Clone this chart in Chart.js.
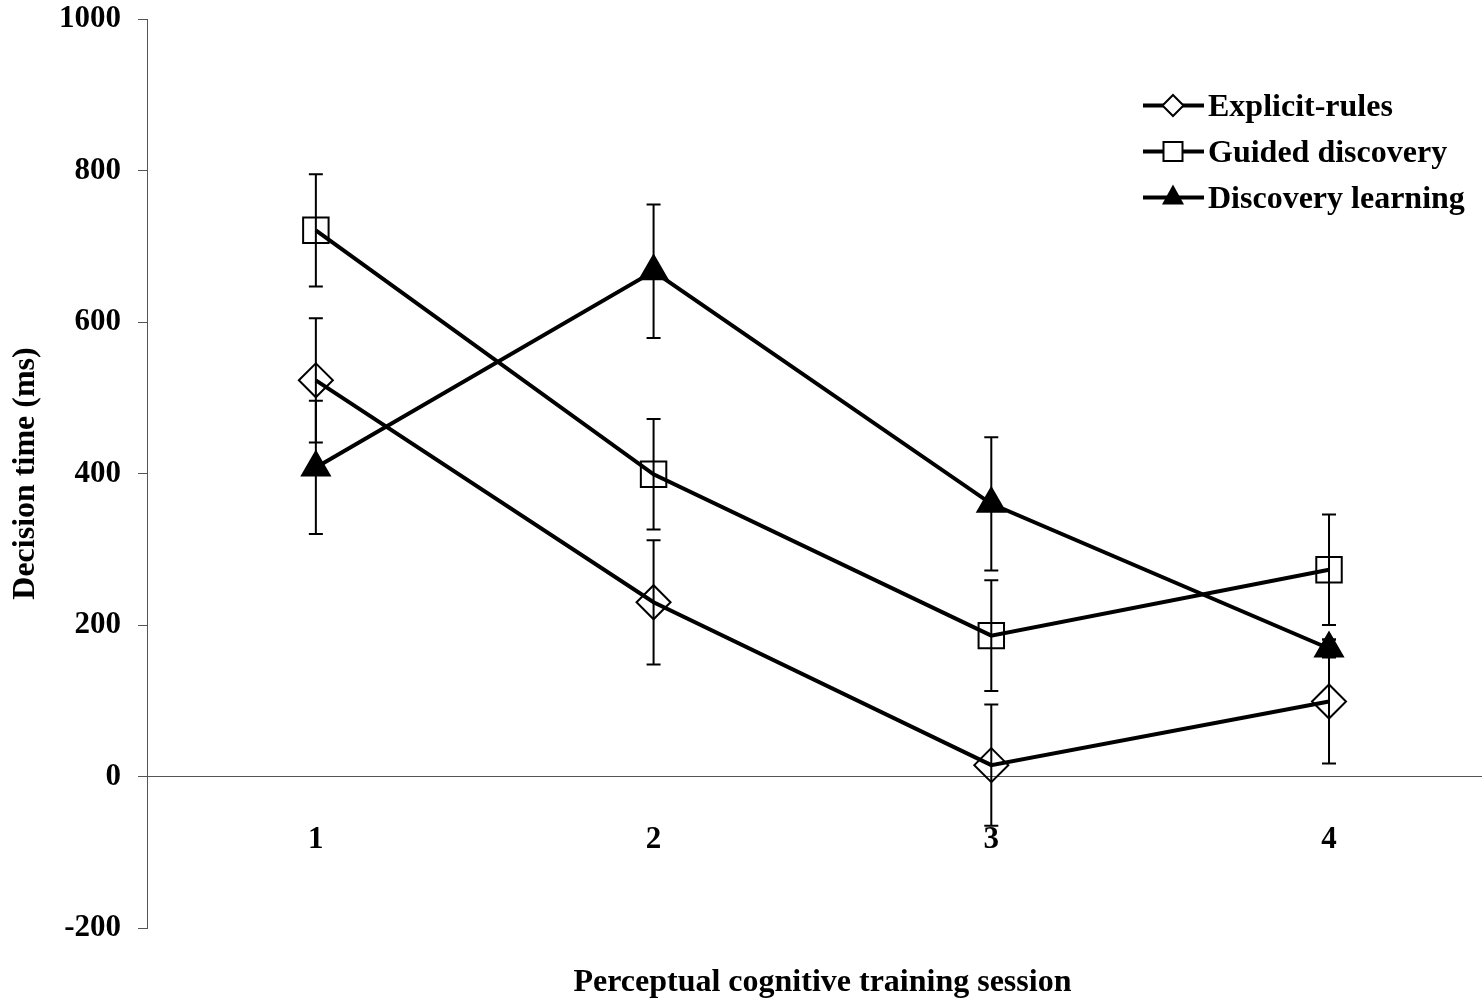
<!DOCTYPE html>
<html>
<head>
<meta charset="utf-8">
<script src="https://cdn.jsdelivr.net/npm/chart.js@4"></script>
<style>
  html, body { margin: 0; padding: 0; background: #fff; overflow: hidden; }
  #wrap { width: 1482px; height: 1002px; }
</style>
</head>
<body>
<div id="wrap"><canvas id="c"></canvas></div>
<script>
// Data (decision time, ms)
const sessions = [1, 2, 3, 4];
const yTicks = [-200, 0, 200, 400, 600, 800, 1000];
const explicitRules = [523, 230, 15, 99];
const explicitErr = [82, 82, 80, 82];
const guided = [721, 399, 186, 273];
const guidedErr = [74, 73, 73, 73];
const discovery = [408, 667, 360, 169];
const discoveryErr = [88, 88, 88, 12];

const FONT = "'Liberation Serif', 'Times New Roman', serif";
const tickFont = { family: FONT, size: 31, weight: 'bold' };
const titleFont = { family: FONT, size: 32, weight: 'bold' };
const AXIS = '#555';
const X_TITLE = 'Perceptual cognitive training session';

function pts(vals) {
  return sessions.map((s, i) => ({ x: s, y: vals[i] }));
}

// vertical error bars with caps, drawn under the lines/markers
const errorBars = {
  id: 'errorBars',
  beforeDatasetsDraw(chart) {
    const { ctx, scales: { x, y } } = chart;
    ctx.save();
    ctx.strokeStyle = '#000';
    ctx.lineWidth = 2;
    chart.data.datasets.forEach((ds) => {
      ds.data.forEach((p, i) => {
        const px = x.getPixelForValue(p.x);
        const top = y.getPixelForValue(p.y + ds.err[i]);
        const bot = y.getPixelForValue(p.y - ds.err[i]);
        ctx.beginPath();
        ctx.moveTo(px, top); ctx.lineTo(px, bot);
        ctx.moveTo(px - 7, top); ctx.lineTo(px + 7, top);
        ctx.moveTo(px - 7, bot); ctx.lineTo(px + 7, bot);
        ctx.stroke();
      });
    });
    ctx.restore();
  },
};

function marker(ctx, style, x, y) {
  ctx.beginPath();
  if (style === 'rectRot') {
    ctx.moveTo(x, y - 10.5); ctx.lineTo(x + 10.5, y); ctx.lineTo(x, y + 10.5); ctx.lineTo(x - 10.5, y); ctx.closePath();
    ctx.fillStyle = '#fff'; ctx.fill(); ctx.stroke();
  } else if (style === 'rect') {
    ctx.rect(x - 9.5, y - 9.5, 19, 19);
    ctx.fillStyle = '#fff'; ctx.fill(); ctx.stroke();
  } else {
    ctx.moveTo(x, y - 13); ctx.lineTo(x + 11, y + 7); ctx.lineTo(x - 11, y + 7); ctx.closePath();
    ctx.fillStyle = '#000'; ctx.fill();
  }
}

// legend (line + marker sample) and the x-axis title centred on the category range
const extras = {
  id: 'extras',
  afterDraw(chart) {
    const { ctx, scales: { x } } = chart;
    ctx.save();
    chart.data.datasets.forEach((ds, i) => {
      const y = 105.5 + i * 46;
      ctx.strokeStyle = '#000';
      ctx.lineWidth = 4;
      ctx.beginPath();
      ctx.moveTo(1143, y); ctx.lineTo(1204, y);
      ctx.stroke();
      ctx.lineWidth = 2;
      marker(ctx, ds.pointStyle, 1173, y);
      ctx.fillStyle = '#000';
      ctx.font = 'bold 32px ' + FONT;
      ctx.textBaseline = 'middle';
      ctx.textAlign = 'left';
      ctx.fillText(ds.label, 1208, y + 2);
    });
    ctx.font = 'bold 32px ' + FONT;
    ctx.textAlign = 'center';
    ctx.textBaseline = 'middle';
    ctx.fillText(X_TITLE, x.getPixelForValue(2.5), 983);
    ctx.restore();
  },
};

function series(label, vals, err, style, fill, radius) {
  return {
    label,
    data: pts(vals),
    err,
    pointStyle: style,
    pointRadius: radius,
    pointBackgroundColor: fill,
    pointBorderColor: '#000',
    pointBorderWidth: 2,
    borderColor: '#000',
    borderWidth: 4,
    tension: 0,
  };
}

new Chart(document.getElementById('c').getContext('2d'), {
  type: 'line',
  data: {
    datasets: [
      series('Explicit-rules', explicitRules, explicitErr, 'rectRot', 'rgba(0,0,0,0)', 17),
      series('Guided discovery', guided, guidedErr, 'rect', 'rgba(0,0,0,0)', 18),
      series('Discovery learning', discovery, discoveryErr, 'triangle', '#000', 16),
    ],
  },
  options: {
    responsive: true,
    maintainAspectRatio: false,
    animation: false,
    layout: { autoPadding: false, padding: { top: 19, right: 0, bottom: 74, left: 0 } },
    plugins: {
      legend: { display: false },
      tooltip: { enabled: false },
    },
    scales: {
      x: {
        type: 'linear',
        position: { y: 0 },
        min: 0.5,
        max: 4.453,
        afterBuildTicks: (s) => { s.ticks = sessions.map((v) => ({ value: v })); },
        afterFit: (s) => { s.paddingLeft = 0; s.paddingRight = 0; },
        ticks: { font: tickFont, color: '#000', padding: 45 },
        grid: { display: false, drawTicks: false },
        border: { display: true, color: AXIS, width: 1 },
      },
      y: {
        min: -200,
        max: 1000,
        afterBuildTicks: (s) => { s.ticks = yTicks.map((v) => ({ value: v })); },
        afterFit: (s) => { s.width = 147; s.paddingTop = 0; s.paddingBottom = 0; },
        ticks: { font: tickFont, color: '#000', padding: 17, callback: (v) => String(v) },
        grid: { drawOnChartArea: false, drawTicks: true, tickLength: 9, color: AXIS },
        border: { color: AXIS, width: 1 },
        title: {
          display: true,
          text: 'Decision time (ms)',
          font: titleFont,
          color: '#000',
          padding: { top: 7, bottom: 0 },
        },
      },
    },
  },
  plugins: [errorBars, extras],
});
</script>
</body>
</html>
